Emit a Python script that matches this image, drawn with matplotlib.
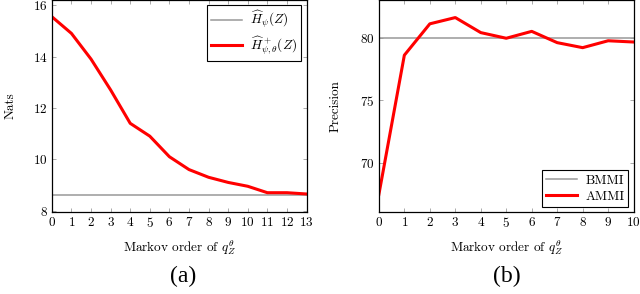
import numpy as np
import matplotlib.pyplot as plt

plt.rcParams['font.family'] = 'serif'
plt.rcParams['font.serif'] = ['cmr10', 'DejaVu Serif']
plt.rcParams['mathtext.fontset'] = 'cm'
plt.rcParams['axes.formatter.use_mathtext'] = True
plt.rcParams['axes.unicode_minus'] = False

# (a) entropy vs Markov order
order_a = np.arange(14)
h_plus = [15.55, 14.9, 13.9, 12.7, 11.4, 10.9, 10.1, 9.6, 9.3, 9.1, 8.95, 8.7, 8.7, 8.65]
h_base = 8.62

# (b) precision vs Markov order
order_b = np.arange(11)
ammi = [67.5, 78.6, 81.1, 81.6, 80.4, 79.95, 80.5, 79.6, 79.2, 79.75, 79.65]
bmmi = 80.0

fig = plt.figure(figsize=(6.4, 2.94), dpi=100)
ax1 = fig.add_axes([0.081, 0.279, 0.398, 0.721])
ax2 = fig.add_axes([0.592, 0.279, 0.398, 0.721])

gray = '#999999'
red = '#ff0000'


def style(ax):
    ax.tick_params(direction='in', top=True, right=True, labelsize=9.5,
                   length=3, width=0.5, color='#888888', pad=3)
    for s in ax.spines.values():
        s.set_linewidth(0.9)


def legend(ax, loc):
    leg = ax.legend(loc=loc, fontsize=9.5, frameon=True, fancybox=False,
                    edgecolor='black', framealpha=1, handlelength=2.4,
                    borderaxespad=0.4, borderpad=0.3, labelspacing=0.3,
                    handletextpad=0.6)
    leg.get_frame().set_linewidth(0.8)


ax1.axhline(h_base, color=gray, lw=1.1, label=r'$\widehat{H}_\psi(Z)$')
ax1.plot(order_a, h_plus, color=red, lw=2.2, label=r'$\widehat{H}^+_{\psi,\theta}(Z)$')
ax1.set_xlim(0, 13)
ax1.set_ylim(7.95, 16.2)
ax1.set_xticks(order_a)
ax1.set_yticks([8, 10, 12, 14, 16])
ax1.set_ylabel('Nats', fontsize=9.5, labelpad=12)
ax1.set_xlabel(r'Markov order of $q_Z^\theta$', fontsize=9.5, labelpad=6)
style(ax1)
legend(ax1, 'upper right')

ax2.axhline(bmmi, color=gray, lw=1.1, label='BMMI')
ax2.plot(order_b, ammi, color=red, lw=2.2, label='AMMI')
ax2.set_xlim(0, 10)
ax2.set_ylim(66.1, 83.0)
ax2.set_xticks(order_b)
ax2.set_yticks([70, 75, 80])
ax2.set_ylabel('Precision', fontsize=9.5, labelpad=13)
ax2.set_xlabel(r'Markov order of $q_Z^\theta$', fontsize=9.5, labelpad=6)
style(ax2)
legend(ax2, 'lower right')

fig.text(0.286, 0.058, '(a)', ha='center', va='center', fontsize=17,
         family=['Liberation Serif', 'DejaVu Serif'])
fig.text(0.792, 0.058, '(b)', ha='center', va='center', fontsize=17,
         family=['Liberation Serif', 'DejaVu Serif'])

fig.savefig('out.png', dpi=100)
